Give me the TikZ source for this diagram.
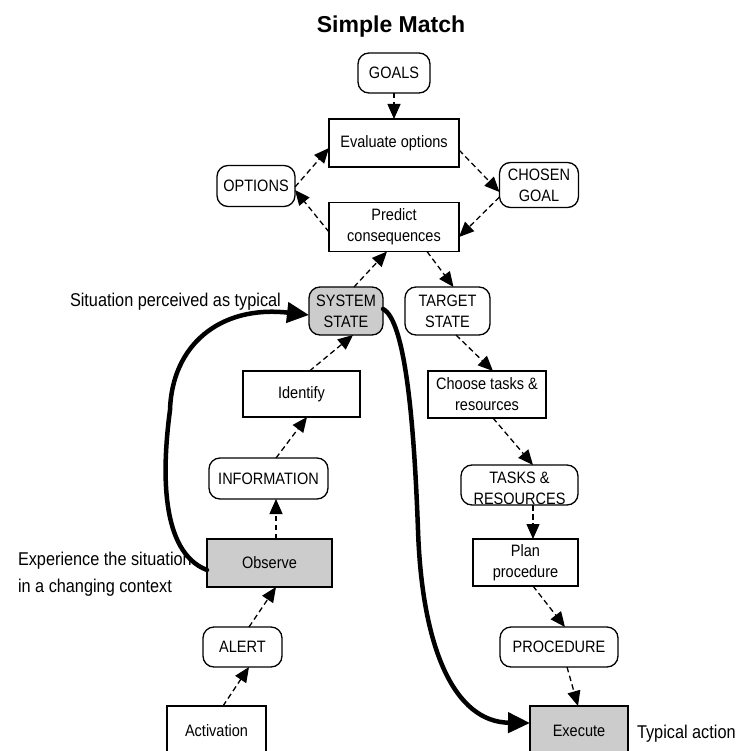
\documentclass[tikz,border=0pt]{standalone}
\usepackage{fontspec}
\setmainfont{Liberation Sans}[FakeStretch=0.88]
\newfontfamily\titlefont{Liberation Sans}
\usetikzlibrary{arrows.meta}
\begin{document}
\begin{tikzpicture}[x=1pt,y=-1pt,
  every node/.style={inner sep=0pt, outer sep=0pt, text=black},
  nodetext/.style={font=\fontsize{16.5}{21}\selectfont, align=center},
  rbox/.style={nodetext, draw, line width=1.3pt, rounded corners=11pt},
  sbox/.style={nodetext, draw, line width=1.3pt},
  hilite/.style={fill=black!20},
  note/.style={font=\fontsize{18.5}{22}\selectfont, anchor=base west},
  flow/.style={line width=1.3pt, dash pattern=on 5.5pt off 3.5pt,
    -{Triangle[length=15pt,width=13pt]}},
  habit/.style={line width=4.5pt, line cap=round,
    -{Triangle[length=22pt,width=20pt]}}
]
\useasboundingbox (0,0) rectangle (736,751);

% heading
\node[font=\titlefont\bfseries\fontsize{23}{26}\selectfont, anchor=base] (title) at (391,33) {Simple Match};

% upper loop: goal selection
\node[rbox, minimum width=72, minimum height=40] (goals) at (394,73) {GOALS};
\node[sbox, minimum width=130, minimum height=48] (eval) at (394,143) {Evaluate options};
\node[rbox, minimum width=78, minimum height=41] (options) at (256,186) {OPTIONS};
\node[rbox, minimum width=79, minimum height=45] (chosen) at (539,185) {CHOSEN\\GOAL};
\node[sbox, minimum width=130, minimum height=49] (predict) at (394,227) {Predict\\consequences};

% states
\node[rbox, hilite, minimum width=74, minimum height=48] (sys) at (346,311) {SYSTEM\\STATE};
\node[rbox, minimum width=85, minimum height=48] (target) at (447.5,311) {TARGET\\STATE};

% left branch: perception
\node[sbox, minimum width=117, minimum height=46] (identify) at (301.5,394) {Identify};
\node[rbox, minimum width=119, minimum height=41] (info) at (268.5,478.5) {INFORMATION};
\node[sbox, hilite, minimum width=125, minimum height=48] (observe) at (269.5,563) {Observe};
\node[rbox, minimum width=79, minimum height=40] (alert) at (242.5,647) {ALERT};
\node[sbox, minimum width=99, minimum height=50] (activation) at (216.5,731) {Activation};

% right branch: action
\node[sbox, minimum width=118, minimum height=47] (choose) at (487,394.5) {Choose tasks \&\\resources};
\node[rbox, minimum width=117, minimum height=40] (tasks) at (519.5,485) {};
\node[nodetext] (taskstext) at (519.5,488) {TASKS \&\\RESOURCES};
\node[sbox, minimum width=105, minimum height=47] (plan) at (525.5,562.5) {Plan\\procedure};
\node[rbox, minimum width=118, minimum height=40] (procedure) at (559,647) {PROCEDURE};
\node[sbox, hilite, minimum width=98, minimum height=50] (execute) at (579,731) {Execute};

% annotations
\node[note] (perceived) at (70,306) {Situation perceived as typical};
\node[note] (experience1) at (18,565) {Experience the situation};
\node[note] (experience2) at (18,592) {in a changing context};
\node[note] (typical) at (637,738) {Typical action};

% dashed flow arrows
\draw[flow] (goals.south) -- (eval.north);
\draw[flow] ([yshift=-7pt]eval.east) -- ([yshift=-7pt]chosen.west);
\draw[flow] ([yshift=-12pt]chosen.west) -- ([yshift=-10pt]predict.east);
\draw[flow] ([yshift=-5pt]predict.west) -- ([yshift=-4pt]options.east);
\draw[flow] ([yshift=-1pt]options.east) -- ([yshift=-5pt]eval.west);
\draw[flow] ([xshift=8pt]sys.north) -- ([xshift=-7pt]predict.south);
\draw[flow] ([xshift=33pt]predict.south) -- ([xshift=6pt]target.north);
\draw[flow] ([xshift=8pt]identify.north) -- ([xshift=7pt]sys.south);
\draw[flow] ([xshift=7.5pt]info.north) -- ([xshift=5.5pt]identify.south);
\draw[flow] ([xshift=6.5pt]observe.north) -- ([xshift=7.5pt]info.south);
\draw[flow] ([xshift=6.5pt]alert.north) -- ([xshift=6.5pt]observe.south);
\draw[flow] ([xshift=6.5pt]activation.north) -- ([xshift=6.5pt]alert.south);
\draw[flow] ([xshift=8.5pt]target.south) -- ([xshift=6pt]choose.north);
\draw[flow] ([xshift=6pt]choose.south) -- ([xshift=13.5pt]tasks.north);
\draw[flow] ([xshift=13.5pt]tasks.south) -- ([xshift=7.5pt]plan.north);
\draw[flow] ([xshift=7.5pt]plan.south) -- ([xshift=6pt]procedure.north);
\draw[flow] ([xshift=8pt]procedure.south) -- ([xshift=-1pt]execute.north);

% heavy shortcut paths
\draw[habit] ([yshift=-7pt]observe.west)
  .. controls (160,552) and (162,470) .. (170,410)
  .. controls (172,345) and (220,305) .. ([yshift=-4pt]sys.west);
\draw[habit] ([yshift=2pt]sys.east)
  .. controls (405,320) and (414,420) .. (418,530)
  .. controls (422,650) and (455,722) .. ([yshift=8pt]execute.west);
\end{tikzpicture}
\end{document}
